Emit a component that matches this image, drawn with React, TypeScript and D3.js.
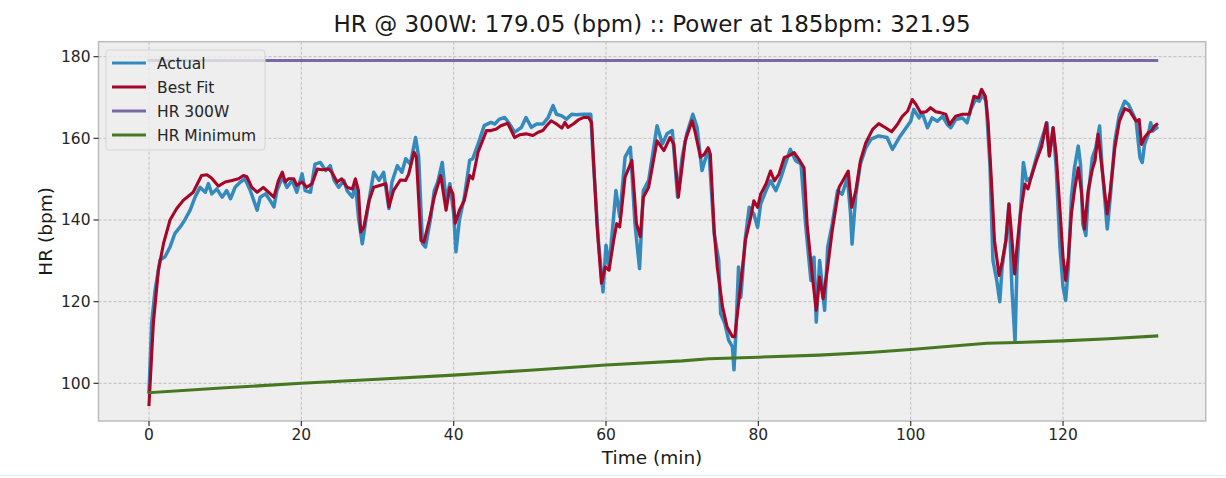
import React from "react";
import * as d3 from "d3";

const actual: [number, number][] = [
  [0,98],[0.35,114.7],[0.8,122.8],[1.45,130.2],[2.1,131],[2.76,133.4],[3.4,136.7],[4.1,138.3],[4.7,140],[5.4,142.4],
  [6.05,145.6],[6.7,148],[7.4,146.8],[7.8,148.9],[8.25,146.4],[8.9,147.6],[9.6,145.6],[10.2,147.2],[10.7,145.2],[11.3,148],
  [12,149.3],[12.6,150.1],[13.3,147.2],[13.9,144],[14.2,142.4],[14.6,145.6],[15.3,146.4],[15.9,144.8],[16.4,143.2],[16.8,147.2],
  [17.5,150.5],[18.1,148],[18.8,149.7],[19.4,146.8],[20.1,151.3],[20.5,147.2],[21.2,146.8],[21.8,153.7],[22.5,154.1],[23.2,152.1],
  [23.8,153.3],[24.3,149.7],[24.9,148],[25.6,149.7],[26,147.2],[26.7,145.6],[27.1,148.9],[27.5,140.7],[28,134.2],[28.4,139.1],
  [29.1,147.2],[29.5,151.7],[30.2,149.7],[30.8,151.7],[31.5,142.8],[31.9,149.3],[32.6,153.3],[33.2,151.7],[33.7,155],[34.3,153.7],
  [35,160.2],[35.4,155.4],[35.9,134.2],[36.3,133.4],[37,140.7],[37.45,147.2],[37.9,149.3],[38.5,154.1],[39,144.8],[39.5,148.9],
  [40,141.6],[40.3,132.2],[40.75,140],[41.4,145.6],[42.1,154.6],[42.5,155],[43.2,158.6],[44,163.1],[44.9,163.9],[45.4,163.5],
  [46,164.7],[46.7,165.1],[47.35,163.5],[48,161.5],[48.9,162.7],[49.5,165.1],[50.2,162.7],[50.9,163.5],[51.7,163.5],[52.4,165.1],
  [53.05,168],[53.5,165.9],[54.2,165.5],[54.8,164.7],[55.5,165.9],[56.1,165.8],[57,165.9],[58,165.9],[58.3,155.4],[59,135],
  [59.6,122.4],[60,133.8],[60.4,128.5],[61,140.8],[61.3,147.2],[61.8,140.8],[62.5,155.4],[63.2,157.8],[63.8,139.1],[64.4,128.1],
  [64.9,147.2],[65.6,149.7],[66.7,163.1],[67.4,158.6],[68,161.1],[68.7,161.9],[69.4,145.6],[70,155.4],[70.6,161.1],[71.4,165.9],
  [71.95,162.7],[72.6,152.1],[73.1,155.3],[73.5,157.3],[74.2,136.6],[74.8,130.1],[75.05,117.1],[75.6,114.6],[76.1,110.6],[76.6,108.9],
  [76.8,103.3],[77,110.6],[77.4,128.5],[77.7,121.1],[78.3,135.8],[78.8,143.1],[79.4,141.5],[79.9,138.2],[80.3,143.9],[81,147.2],
  [81.6,149.6],[82.3,147.2],[82.9,150],[83.6,154.1],[84.2,157.3],[84.9,154.5],[85.6,153.7],[86.2,139],[86.9,125.2],[87.3,130.9],
  [87.6,115],[88.05,130.1],[88.7,117.9],[89.1,133.3],[89.7,139],[90.4,147.2],[91,146.3],[91.7,150.4],[92.1,141.5],[92.3,134.1],
  [92.8,146.3],[93.4,153.7],[94.1,157.7],[94.8,159.8],[95.8,160.6],[96.9,160.2],[97.6,157.3],[98.5,160.2],[99.1,161.8],[100,164.2],
  [100.4,167.1],[101.1,165],[101.5,166.3],[102.2,162.6],[102.8,165],[103.5,164.2],[104.2,165.4],[104.8,163.4],[105.25,162.6],[105.9,164.6],
  [106.8,165],[107.4,163.8],[107.9,167.1],[108.5,169.5],[109,169.1],[109.4,170.7],[109.9,169.1],[110.4,153.7],[110.8,130.1],[111.3,125.2],
  [111.7,120],[112,128.5],[112.5,135],[112.9,143.9],[113.3,122.8],[113.7,110.2],[113.95,128.5],[114.4,141.5],[114.8,154.1],[115.2,149.6],
  [115.8,150.4],[116.5,155.3],[117.2,159.8],[117.9,163.8],[118.2,155.7],[118.7,162.6],[119.1,152.8],[119.6,133.3],[120,123.6],[120.35,120.3],
  [120.7,128.5],[121.1,145.5],[121.5,152.8],[122,158.1],[122.3,153.5],[122.6,139],[123,136.2],[123.3,146],[123.85,155.3],[124.3,157.7],
  [124.8,163],[125.1,153.7],[125.5,144.7],[125.8,137.8],[126.2,145.5],[126.8,159.3],[127.4,165.8],[128.1,169.1],[128.6,168.3],[129.1,166.3],
  [129.6,164.2],[130.1,155.3],[130.4,154.1],[130.7,158.5],[131.2,161],[131.5,163.8],[131.8,161.8],[132.3,162.6],
];

const bestFit: [number, number][] = [
  [0,94.8],[0.57,114.7],[1.23,127.7],[1.9,134.2],[2.76,140],[3.64,142.8],[4.5,144.8],[5.8,146.8],[6.9,150.9],[7.6,151.1],
  [8.2,150.3],[9.1,148.3],[10,149.3],[10.9,149.7],[11.75,150.1],[12.4,150.9],[12.85,150.6],[13.5,148],[14.2,146.8],[15,148],
  [15.7,146.8],[16.4,145.6],[17,149.7],[17.5,151.7],[17.9,149.3],[18.3,150.1],[19,150.1],[19.4,148.5],[20.1,149.3],[20.7,148],
  [21.4,148.9],[22.1,152.5],[22.7,152.3],[23.6,152.5],[24,151.7],[24.7,149.3],[25.3,150.1],[26,148],[26.7,147.6],[27.1,150.1],
  [27.5,147.2],[27.8,137.1],[28.2,138.3],[28.9,144.8],[29.5,148],[30.4,148.5],[31.1,148.9],[31.5,143.2],[32.1,147.2],[33,149.8],
  [33.7,149.7],[34.1,151.3],[34.8,156.6],[35.1,155.4],[35.7,135],[36.1,134.6],[36.8,140],[37.45,145.6],[38.3,150.9],[39,142.4],
  [39.5,148],[39.9,146.4],[40.2,139.2],[40.75,142.4],[41.4,144.8],[42.1,150.9],[42.5,150.1],[43.2,156.6],[44.3,161.9],[44.9,161.9],
  [45.6,162.3],[46.2,163.1],[47.1,163.7],[48,160.2],[48.7,160.9],[49.5,161.1],[50.4,160.7],[51.1,161.5],[51.7,161.9],[52.2,163.1],
  [52.8,164.3],[53.5,163.5],[54.2,162.5],[54.6,163.9],[55,162.7],[55.7,163.5],[56.35,164.5],[57,165.1],[57.7,165.1],[58.1,163.9],
  [58.8,139.1],[59.4,124.5],[59.9,128.5],[60.4,127.7],[61,135],[61.4,139.1],[61.8,138.3],[62.5,150.5],[63.4,154.6],[64,139.1],
  [64.5,135.9],[64.9,145.6],[65.6,148],[66.7,159.4],[67.6,157],[68.4,160.2],[68.9,158.6],[69.5,145.6],[70.4,159.4],[71.3,164.3],
  [71.7,161.5],[72.4,155.4],[72.9,156.1],[73.4,157.7],[73.7,156.1],[74.2,137.4],[74.6,128.5],[75.3,118.7],[75.9,113.8],[76.6,111.4],
  [76.9,111.4],[77.5,121.1],[78.3,135],[79,140.7],[79.4,144.7],[79.9,143.1],[80.3,146.3],[81,148.8],[81.6,152],[82.1,149.6],
  [82.7,151.2],[83.4,155.3],[84,155.7],[84.7,156.5],[85.3,154.9],[86,152.8],[86.4,139],[87.1,126],[87.6,117.9],[88.05,126],
  [88.5,120.7],[89.1,128.5],[89.7,137.4],[90.6,148],[91.2,150],[91.8,152],[92.25,143.1],[92.8,147.2],[93.4,154.5],[94.1,158.9],
  [95,162.2],[95.8,163.6],[96.7,162.6],[97.5,161.6],[98.25,163.4],[98.9,165.4],[99.6,166.7],[100.2,169.5],[100.7,168.3],[101.3,166.3],
  [102,166.5],[102.6,167.5],[103.3,166.5],[103.9,166.3],[104.6,165.9],[105.1,163.4],[105.9,165.4],[106.8,165.9],[107.7,165.9],[108.3,170.3],
  [108.9,169.9],[109.3,172],[109.8,170.3],[110.15,164.2],[110.6,149.6],[111,135],[111.6,126.4],[112,129.7],[112.5,135],[112.9,143.9],
  [113.2,137.4],[113.65,126.8],[113.95,133.3],[114.4,141.5],[115,148.8],[115.4,147.6],[115.8,150.4],[116.5,154.5],[117.2,158.1],[117.8,163.8],
  [118.2,155.7],[118.7,162.6],[119.1,156.1],[119.6,142.4],[120,130.9],[120.35,125.2],[120.7,130.9],[121.1,141.5],[121.5,147.2],[122,152.8],
  [122.4,147.2],[122.8,137.8],[123.3,147.2],[123.85,152.4],[124.2,154.5],[124.6,161],[125,154.5],[125.5,146.3],[125.8,141.5],[126.2,147.2],
  [126.8,157.7],[127.4,164.2],[128.1,167.3],[128.75,166.7],[129.2,165.4],[129.6,164.2],[130,164.6],[130.3,158.5],[130.7,160.2],[131.2,161.4],
  [131.6,161.8],[132,163],[132.3,163.4],
];

const hrMinimum: [number, number][] = [
  [0,97.7],[10,98.9],[20,100],[30,101],[40,102],[50,103.2],[60,104.5],[70,105.5],[73.5,106],[80,106.4],
  [88,106.9],[95,107.6],[100,108.3],[110,109.8],[114,110],[120,110.4],[126,110.9],[132.3,111.6],
];

const hr300Value = 179.05;
const hr300Span = [0, 132.3];

const xTicks = [0, 20, 40, 60, 80, 100, 120];
const yTicks = [100, 120, 140, 160, 180];
const xLimits = [-6.63, 138.73];
const yLimits = [90.77, 183.67];

const legendItems = [
  { label: "Actual", color: "#348ABD" },
  { label: "Best Fit", color: "#A60628" },
  { label: "HR 300W", color: "#7A68A6" },
  { label: "HR Minimum", color: "#467821" },
];

const titleText = "HR @ 300W: 179.05 (bpm) :: Power at 185bpm: 321.95";

export default function App() {
  const W = 1226, H = 478;
  const L = 98.5, R = 1205.7, T = 41.7, B = 421;
  const x = d3.scaleLinear().domain(xLimits).range([L, R]);
  const y = d3.scaleLinear().domain(yLimits).range([B, T]);
  const line = d3.line<[number, number]>().x(d => x(d[0])).y(d => y(d[1]));
  const font = "'DejaVu Sans', sans-serif";
  const hr300: [number, number][] = hr300Span.map(t => [t, hr300Value]);

  return (
    <svg width={W} height={H} style={{ position: "absolute", left: 0, top: 0, background: "#fff" }} fontFamily={font}>
      <defs>
        <clipPath id="plotclip">
          <rect x={L} y={T} width={R - L} height={B - T} />
        </clipPath>
      </defs>
      <rect x={L} y={T} width={R - L} height={B - T} fill="#eeeeee" />
      {xTicks.map(t => (
        <line key={"gx" + t} x1={x(t)} x2={x(t)} y1={T} y2={B} stroke="#b2b2b2" strokeWidth={0.8} strokeDasharray="3,2" />
      ))}
      {yTicks.map(t => (
        <line key={"gy" + t} x1={L} x2={R} y1={y(t)} y2={y(t)} stroke="#b2b2b2" strokeWidth={0.8} strokeDasharray="3,2" />
      ))}
      <g clipPath="url(#plotclip)" fill="none" strokeLinejoin="round" strokeLinecap="square">
        <path d={line(actual) || ""} stroke="#348ABD" strokeWidth={3.5} />
        <path d={line(bestFit) || ""} stroke="#A60628" strokeWidth={3.1} />
        <path d={line(hr300) || ""} stroke="#7A68A6" strokeWidth={3.1} />
        <path d={line(hrMinimum) || ""} stroke="#467821" strokeWidth={3.1} />
      </g>
      <rect x={L} y={T} width={R - L} height={B - T} fill="none" stroke="#bcbcbc" strokeWidth={1.5} />
      {xTicks.map(t => (
        <g key={"tx" + t}>
          <line x1={x(t)} x2={x(t)} y1={B} y2={B + 5} stroke="#333" strokeWidth={1.2} />
          <text x={x(t)} y={B + 19} textAnchor="middle" fontSize={15.5} fill="#262626">{t}</text>
        </g>
      ))}
      {yTicks.map(t => (
        <g key={"ty" + t}>
          <line x1={L - 5} x2={L} y1={y(t)} y2={y(t)} stroke="#333" strokeWidth={1.2} />
          <text x={L - 8} y={y(t) + 5.5} textAnchor="end" fontSize={15.5} fill="#262626">{t}</text>
        </g>
      ))}
      <text x={(L + R) / 2} y={464} textAnchor="middle" fontSize={18.5} fill="#1a1a1a">Time (min)</text>
      <text transform={`translate(52, ${(T + B) / 2}) rotate(-90)`} textAnchor="middle" fontSize={18.5} fill="#1a1a1a">HR (bpm)</text>
      <text x={(L + R) / 2} y={32} textAnchor="middle" fontSize={23} fill="#1a1a1a">{titleText}</text>
      <g>
        <rect x={106} y={50} width={159} height={100} rx={3} fill="#eeeeee" fillOpacity={0.8} stroke="#d4d4d4" strokeWidth={1} />
        {legendItems.map((it, i) => (
          <g key={it.label}>
            <line x1={112} x2={146} y1={63 + i * 24} y2={63 + i * 24} stroke={it.color} strokeWidth={3.1} />
            <text x={157} y={63 + i * 24 + 5.5} fontSize={15.5} fill="#262626">{it.label}</text>
          </g>
        ))}
      </g>
      <rect x={0} y={475} width={W} height={1} fill="#e3ecef" />
    </svg>
  );
}
